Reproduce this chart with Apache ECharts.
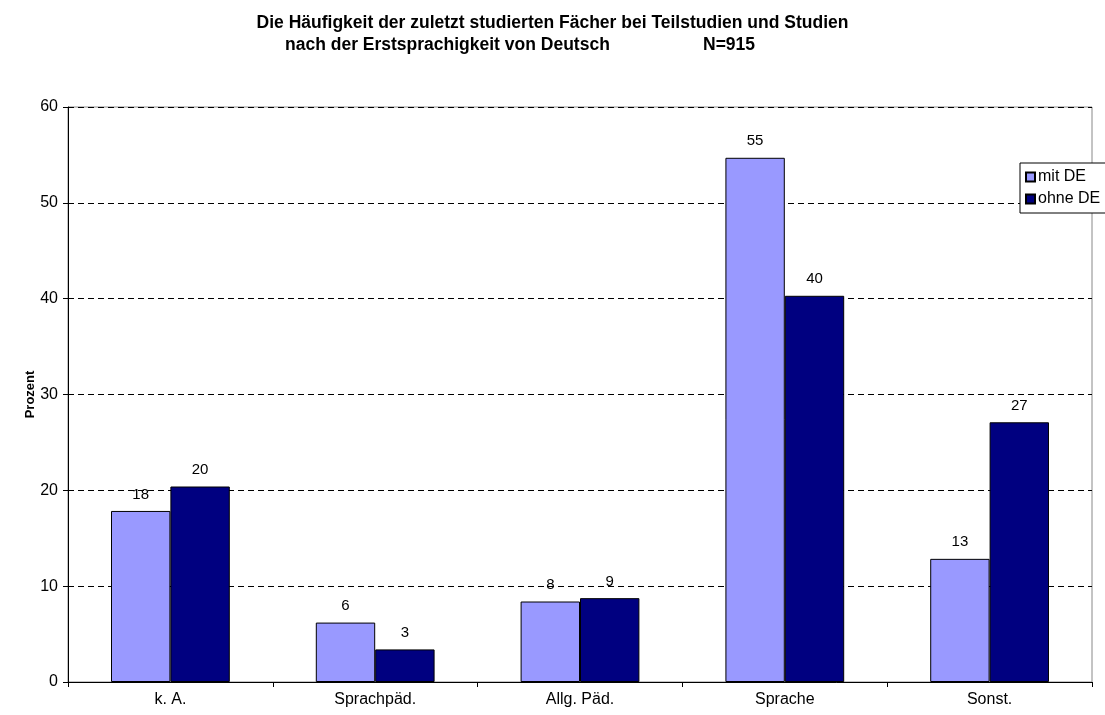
<!DOCTYPE html>
<html>
<head>
<meta charset="utf-8">
<script src="https://cdn.jsdelivr.net/npm/echarts@6/dist/echarts.min.js"></script>
<style>
  html, body { margin: 0; padding: 0; background: #fff; }
  #chart { width: 1105px; height: 715px; }
</style>
</head>
<body>
<div id="chart"></div>
<script>
const FONT = 'Arial, "Liberation Sans", sans-serif'

const categories = ['k. A.', 'Sprachpäd.', 'Allg. Päd.', 'Sprache', 'Sonst.']
const seriesNames = ['mit DE', 'ohne DE']
const mitDE = [17.85, 6.2, 8.4, 54.7, 12.85]
const ohneDE = [20.4, 3.4, 8.75, 40.3, 27.1]
const yTicks = [0, 10, 20, 30, 40, 50, 60]

const chart = echarts.init(document.getElementById('chart'))

const barSeries = (name, data, color) => ({
  name,
  type: 'bar',
  data,
  barGap: '0%',
  barCategoryGap: '42%',
  itemStyle: { color, borderColor: '#000', borderWidth: 1 },
  label: {
    show: true,
    position: 'top',
    distance: 9,
    color: '#000',
    fontSize: 15,
    fontFamily: FONT,
    formatter: (p) => Math.round(p.value),
  },
})

const titleStyle = { fontSize: 17.5, fontWeight: 'bold', color: '#000', fontFamily: FONT }

chart.setOption({
  animation: false,
  backgroundColor: '#fff',
  title: [
    { text: 'Die Häufigkeit der zuletzt studierten Fächer bei Teilstudien und Studien', left: 'center', top: 9, textStyle: titleStyle },
    { text: 'nach der Erstsprachigkeit von Deutsch', left: 280, top: 31, textStyle: titleStyle },
    { text: 'N=915', left: 698, top: 31, textStyle: titleStyle },
  ],
  legend: {
    data: seriesNames,
    orient: 'vertical',
    left: 1020,
    top: 163,
    icon: 'rect',
    itemWidth: 9,
    itemHeight: 9,
    itemGap: 6,
    padding: [6, 8, 6, 5],
    backgroundColor: '#fff',
    borderColor: '#000',
    borderWidth: 1,
    borderRadius: 0,
    textStyle: { fontSize: 16, color: '#000', fontFamily: FONT, padding: [0, 0, 0, -2] },
  },
  grid: {
    left: 68,
    right: 13,
    top: 107,
    bottom: 33,
    show: true,
    borderColor: '#888',
    borderWidth: 1,
  },
  xAxis: {
    type: 'category',
    data: categories,
    axisLine: { lineStyle: { color: '#000', width: 1 } },
    axisTick: { show: true, length: 5, inside: false, lineStyle: { color: '#000' } },
    axisLabel: { color: '#000', fontSize: 16, fontFamily: FONT, margin: 10 },
  },
  yAxis: {
    type: 'value',
    min: yTicks[0],
    max: yTicks[yTicks.length - 1],
    interval: 10,
    name: 'Prozent',
    nameLocation: 'middle',
    nameGap: 31,
    nameMoveOverlap: false,
    nameTextStyle: { fontSize: 13, fontWeight: 'bold', color: '#000', fontFamily: FONT },
    axisLine: { show: true, lineStyle: { color: '#000', width: 1 } },
    axisTick: { show: true, length: 5, lineStyle: { color: '#000' } },
    axisLabel: { color: '#000', fontSize: 16, fontFamily: FONT, margin: 10 },
    splitLine: { show: true, lineStyle: { color: '#000', type: [6, 4], width: 1 } },
  },
  series: [
    barSeries(seriesNames[0], mitDE, '#9999ff'),
    barSeries(seriesNames[1], ohneDE, '#000080'),
  ],
})
</script>
</body>
</html>
